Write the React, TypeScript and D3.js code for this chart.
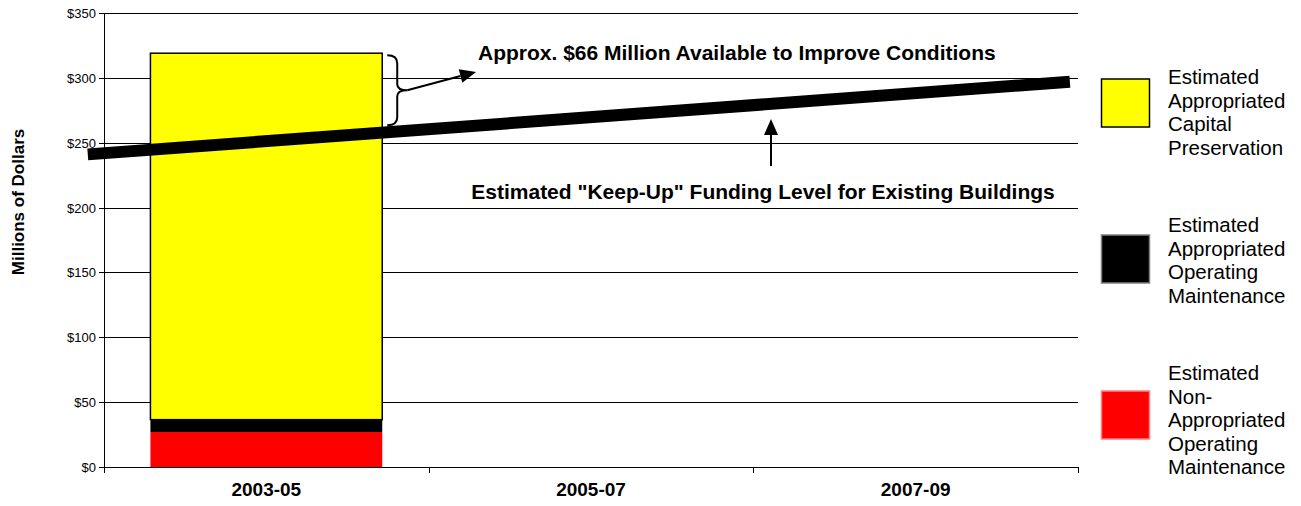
import { useRef, useEffect } from 'react';
import * as d3 from 'd3';

const CATEGORIES = ['2003-05', '2005-07', '2007-09'];
const Y_TICKS = [0, 50, 100, 150, 200, 250, 300, 350];

// stacked bar for 2003-05 (millions)
const NON_APPROP_OM = [27, 0, 0];
const APPROP_OM = [9.5, 0, 0];
const CAPITAL_PRES = [282.5, 0, 0];

// keep-up funding line: [category position, value]
const KEEP_UP = [
  { pos: -0.05, value: 241 },
  { pos: 2.975, value: 297 },
];

const LEGEND = [
  { color: '#ffff00', stroke: '#000', lines: ['Estimated', 'Appropriated', 'Capital', 'Preservation'] },
  { color: '#000000', stroke: '#808080', lines: ['Estimated', 'Appropriated', 'Operating', 'Maintenance'] },
  { color: '#ff0000', stroke: '#ff8080', lines: ['Estimated', 'Non-', 'Appropriated', 'Operating', 'Maintenance'] },
];

const FONT = 'Liberation Sans, Arial, sans-serif';

export default function App() {
  const ref = useRef<SVGSVGElement>(null);

  useEffect(() => {
    const svg = ref.current;
    if (!svg) return;
    const W = 1301, H = 506;
    const padL = 104, padR = 223, padT = 13, padB = 39;

    d3.select(svg).selectAll('*').remove();
    const g = d3.select(svg).attr('width', W).attr('height', H).append('g');

    const x = d3.scaleBand().domain(CATEGORIES).range([padL, W - padR]).paddingInner(0.286).paddingOuter(0.143);
    const xPos = d3.scaleLinear().domain([0, 3]).range([padL, W - padR]);
    const y = d3.scaleLinear().domain([0, 350]).range([H - padB, padT]);

    // gridlines
    Y_TICKS.filter((v) => v > 0).forEach((v) => {
      g.append('line')
        .attr('x1', padL).attr('x2', W - padR).attr('y1', Math.round(y(v)) + 0.5).attr('y2', Math.round(y(v)) + 0.5)
        .attr('stroke', '#000').attr('stroke-width', 1);
    });

    // y ticks + labels
    Y_TICKS.forEach((v) => {
      const yy = Math.round(y(v)) + 0.5;
      g.append('line').attr('x1', padL - 5).attr('x2', padL).attr('y1', yy).attr('y2', yy).attr('stroke', '#000');
      g.append('text')
        .attr('x', padL - 8).attr('y', yy + 4)
        .attr('text-anchor', 'end').attr('font-size', 13).attr('font-family', FONT).attr('fill', '#000')
        .text(`$${v}`);
    });

    // stacked bars
    const stacks = [
      { vals: NON_APPROP_OM, color: '#ff0000', stroke: 'none' },
      { vals: APPROP_OM, color: '#000000', stroke: 'none' },
      { vals: CAPITAL_PRES, color: '#ffff00', stroke: '#000' },
    ];
    CATEGORIES.forEach((c, i) => {
      let base = 0;
      stacks.forEach((s) => {
        const v = s.vals[i];
        if (v > 0) {
          g.append('rect')
            .attr('x', x(c)!).attr('width', x.bandwidth())
            .attr('y', y(base + v)).attr('height', y(base) - y(base + v))
            .attr('fill', s.color).attr('stroke', s.stroke).attr('stroke-width', 1.5);
        }
        base += v;
      });
    });

    // axes
    g.append('line').attr('x1', padL + 0.5).attr('x2', padL + 0.5).attr('y1', padT).attr('y2', H - padB + 5).attr('stroke', '#000');
    g.append('line').attr('x1', padL).attr('x2', W - padR).attr('y1', Math.round(y(0)) + 0.5).attr('y2', Math.round(y(0)) + 0.5).attr('stroke', '#000');
    [0, 1, 2, 3].forEach((p) => {
      g.append('line').attr('x1', Math.round(xPos(p)) + 0.5).attr('x2', Math.round(xPos(p)) + 0.5)
        .attr('y1', y(0)).attr('y2', y(0) + 6).attr('stroke', '#000');
    });
    CATEGORIES.forEach((c) => {
      g.append('text')
        .attr('x', x(c)! + x.bandwidth() / 2).attr('y', H - 10)
        .attr('text-anchor', 'middle').attr('font-size', 19).attr('font-weight', 'bold').attr('font-family', FONT)
        .text(c);
    });

    // y axis title
    g.append('text')
      .attr('transform', `translate(24, 202) rotate(-90)`)
      .attr('text-anchor', 'middle').attr('font-size', 17).attr('font-weight', 'bold').attr('font-family', FONT)
      .text('Millions of Dollars');

    // keep-up line
    const line = d3.line<(typeof KEEP_UP)[0]>().x((d) => xPos(d.pos)).y((d) => y(d.value));
    g.append('path').datum(KEEP_UP).attr('d', line).attr('fill', 'none').attr('stroke', '#000').attr('stroke-width', 12);

    // brace
    const bx = x(CATEGORIES[0])! + x.bandwidth() + 5;
    const bTop = y(317.5), bBot = y(263.5), bMid = (bTop + bBot) / 2;
    g.append('path')
      .attr('d', `M${bx},${bTop} Q${bx + 10},${bTop} ${bx + 10},${bTop + 8} L${bx + 10},${bMid - 6} Q${bx + 10},${bMid} ${bx + 20},${bMid} Q${bx + 10},${bMid} ${bx + 10},${bMid + 6} L${bx + 10},${bBot - 8} Q${bx + 10},${bBot} ${bx},${bBot}`)
      .attr('fill', 'none').attr('stroke', '#000').attr('stroke-width', 2);

    // arrow heads
    const arrow = (x1: number, y1: number, x2: number, y2: number) => {
      const ang = Math.atan2(y2 - y1, x2 - x1);
      const hl = 16, hw = 7;
      const bxh = x2 - hl * Math.cos(ang), byh = y2 - hl * Math.sin(ang);
      g.append('line').attr('x1', x1).attr('y1', y1).attr('x2', bxh).attr('y2', byh).attr('stroke', '#000').attr('stroke-width', 2);
      g.append('path')
        .attr('d', `M${x2},${y2} L${bxh - hw * Math.sin(ang)},${byh + hw * Math.cos(ang)} L${bxh + hw * Math.sin(ang)},${byh - hw * Math.cos(ang)} Z`)
        .attr('fill', '#000');
    };
    arrow(bx + 20, bMid, 476, 72);
    arrow(771, 166, 771, 119);

    g.append('text')
      .attr('x', 478).attr('y', 60).attr('font-size', 21).attr('font-weight', 'bold').attr('font-family', FONT)
      .text('Approx. $66 Million Available to Improve Conditions');
    g.append('text')
      .attr('x', 763).attr('y', 199).attr('text-anchor', 'middle').attr('font-size', 21).attr('font-weight', 'bold').attr('font-family', FONT)
      .text('Estimated "Keep-Up" Funding Level for Existing Buildings');

    // legend
    LEGEND.forEach((l, i) => {
      const cy = 103 + i * 156;
      g.append('rect').attr('x', 1101.5).attr('y', cy - 24).attr('width', 48).attr('height', 48)
        .attr('fill', l.color).attr('stroke', l.stroke).attr('stroke-width', 1.5);
      l.lines.forEach((t, j) => {
        g.append('text')
          .attr('x', 1168).attr('y', 84 + i * 148 + j * 23.6)
          .attr('font-size', 20.5).attr('font-family', FONT).attr('fill', '#000')
          .text(t);
      });
    });
  }, []);

  return <svg ref={ref} style={{ display: 'block', position: 'absolute', left: 0, top: 0, background: '#fff' }} />;
}
